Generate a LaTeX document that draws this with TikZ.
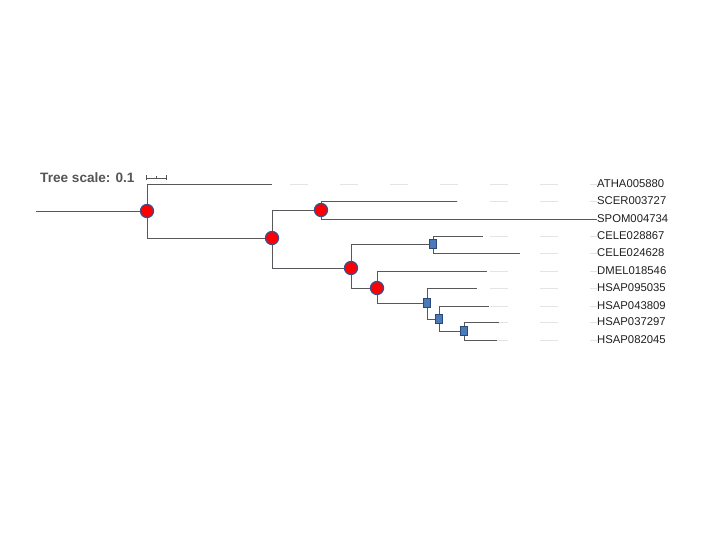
\documentclass[tikz,border=0pt]{standalone}
\usepackage{fontspec}
\setmainfont{Liberation Sans}
\usepackage{tikz}
\usetikzlibrary{
  arrows.meta,
  positioning,
  backgrounds
}
\definecolor{branchgray}{RGB}{88,88,92}
\definecolor{guidegray}{RGB}{228,228,228}
\definecolor{dupred}{RGB}{255,0,0}
\definecolor{dupedge}{RGB}{62,78,140}
\definecolor{spcfill}{RGB}{74,122,186}
\definecolor{spcedge}{RGB}{44,72,118}
\definecolor{scalegray}{RGB}{85,85,85}

\begin{document}
\begin{tikzpicture}[x=1pt, y=-1pt,
  branch/.style={branchgray, line width=0.9pt},
  guide/.style={guidegray, line width=0.9pt, dash pattern=on 18pt off 32pt},
  dupnode/.style={circle, fill=dupred, draw=dupedge, line width=1.3pt, minimum size=13pt, inner sep=0pt},
  spcnode/.style={rectangle, fill=spcfill, draw=spcedge, line width=0.8pt, minimum width=6.5pt, minimum height=9.5pt, inner sep=0pt},
  taxon/.style={anchor=west, inner sep=0pt, font=\fontsize{11.3}{13}\selectfont, text=black!88}]
  \useasboundingbox (0,0) rectangle (720,540);

  \node[anchor=base west, inner sep=0pt, font=\fontsize{13.6}{16}\selectfont\bfseries, text=scalegray] (scale) at (40,183) {Tree scale: 0.1};
  \coordinate (sbL) at (146,178);
  \coordinate (sbR) at (167,178);
  \draw[scalegray, line width=0.8pt, {Bar[width=5pt]}-{Bar[width=5pt]}] (sbL) -- (sbR);
  \draw[scalegray, line width=0.8pt] (156.5,176) -- (156.5,178);

  \coordinate (root) at (36,211);
  \node[dupnode] (n1) at (147,211) {};
  \node[dupnode] (n2) at (272,238) {};
  \node[dupnode] (n3) at (321,210) {};
  \node[dupnode] (n4) at (351,268) {};
  \node[dupnode] (n5) at (377,288) {};
  \node[spcnode] (s1) at (433,244) {};
  \node[spcnode] (s2) at (427,303) {};
  \node[spcnode] (s3) at (439,319) {};
  \node[spcnode] (s4) at (464,331) {};

  \begin{scope}[on background layer]
    \foreach \nm/\yy/\xe in {ATHA005880/184/272, SCER003727/201/457, SPOM004734/219/597,
        CELE028867/236/483, CELE024628/253/520, DMEL018546/271/487,
        HSAP095035/288/477, HSAP043809/306/489, HSAP037297/322/499, HSAP082045/340/497} {
      \coordinate (e\nm) at (\xe,\yy);
      \node[taxon] (t\nm) at (597,\yy) {\nm};
      \pgfmathsetmacro\ph{mod(\xe-40,50)}
      \draw[guide, dash phase=\ph pt] (e\nm) -- (t\nm.west);
    }
    \draw[branch] (root) -- (n1.center);
    \draw[branch] (n1.center) |- (eATHA005880);
    \draw[branch] (n1.center) |- (n2.center);
    \draw[branch] (n2.center) |- (n3.center);
    \draw[branch] (n2.center) |- (n4.center);
    \draw[branch] (n3.center) |- (eSCER003727);
    \draw[branch] (n3.center) |- (tSPOM004734.west);
    \draw[branch] (n4.center) |- (s1.center);
    \draw[branch] (n4.center) |- (n5.center);
    \draw[branch] (s1.center) |- (eCELE028867);
    \draw[branch] (s1.center) |- (eCELE024628);
    \draw[branch] (n5.center) |- (eDMEL018546);
    \draw[branch] (n5.center) |- (s2.center);
    \draw[branch] (s2.center) |- (eHSAP095035);
    \draw[branch] (s2.center) |- (s3.center);
    \draw[branch] (s3.center) |- (eHSAP043809);
    \draw[branch] (s3.center) |- (s4.center);
    \draw[branch] (s4.center) |- (eHSAP037297);
    \draw[branch] (s4.center) |- (eHSAP082045);
  \end{scope}
\end{tikzpicture}
\end{document}
